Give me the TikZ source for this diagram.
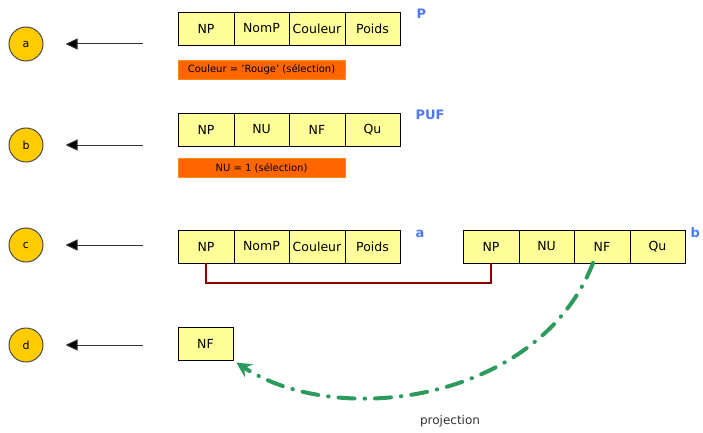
\documentclass[tikz,border=0pt]{standalone}
\usepackage{fontspec}
\setmainfont{DejaVu Sans}
\usetikzlibrary{arrows.meta,positioning,calc}
\definecolor{cellyel}{RGB}{255,255,153}
\definecolor{circyel}{RGB}{255,204,0}
\definecolor{selorange}{RGB}{255,102,0}
\definecolor{relblue}{RGB}{77,121,255}
\definecolor{joinred}{RGB}{140,0,0}
\definecolor{projgreen}{RGB}{46,155,94}

\begin{document}
\begin{tikzpicture}[x=1pt,y=-1pt,>=Stealth,
 cell/.style={draw,fill=cellyel,minimum width=55.5pt,minimum height=33pt,inner sep=0pt,outer sep=0pt,font=\fontsize{12.5}{14}\selectfont},
 opcirc/.style={circle,draw=black!70,line width=1pt,fill=circyel,minimum size=34pt,inner sep=0pt,font=\fontsize{11}{12}\selectfont},
 sel/.style={fill=selorange,draw=orange!90,minimum width=167pt,minimum height=19pt,inner sep=0pt,font=\fontsize{10}{12}\selectfont},
 rel/.style={text=relblue,anchor=base west,font=\bfseries\fontsize{13}{15}\selectfont},
 res/.style={draw=black!80,line width=1pt,-{Triangle[length=12pt,width=11pt,fill=black]},shorten >=22pt}]
 \useasboundingbox (0,0) rectangle (703,433);
 % result circles and arrows
 \node[opcirc] (ca) at (26,44) {a};
 \node[opcirc] (cb) at (26,145) {b};
 \node[opcirc] (cc) at (26,245) {c};
 \node[opcirc] (cd) at (26,345) {d};
 \coordinate (sa) at (143,44);
 \coordinate (sb) at (143,145);
 \coordinate (sc) at (143,245);
 \coordinate (sd) at (143,345);
 \draw[res] (sa) -- (ca);
 \draw[res] (sb) -- (cb);
 \draw[res] (sc) -- (cc);
 \draw[res] (sd) -- (cd);
 % a: selection on P
 \node[cell] (p1) at (206,28.5) {NP};
 \node[cell,right=0pt of p1] (p2) {NomP};
 \node[cell,right=0pt of p2] (p3) {Couleur};
 \node[cell,right=0pt of p3] (p4) {Poids};
 \node[rel] (lp) at (413,19) {P};
 \node[sel] (sela) at (261.5,69.5) {Couleur = 'Rouge' (sélection)};
 % b: selection on PUF
 \node[cell] (u1) at (206,129.5) {NP};
 \node[cell,right=0pt of u1] (u2) {NU};
 \node[cell,right=0pt of u2] (u3) {NF};
 \node[cell,right=0pt of u3] (u4) {Qu};
 \node[rel] (lu) at (412,119) {PUF};
 \node[sel] (selb) at (261.5,168) {NU = 1 (sélection)};
 % c: join
 \node[cell] (a1) at (206,246.5) {NP};
 \node[cell,right=0pt of a1] (a2) {NomP};
 \node[cell,right=0pt of a2] (a3) {Couleur};
 \node[cell,right=0pt of a3] (a4) {Poids};
 \node[rel] (la) at (412,237) {a};
 \node[cell] (b1) at (491,246.5) {NP};
 \node[cell,right=0pt of b1] (b2) {NU};
 \node[cell,right=0pt of b2] (b3) {NF};
 \node[cell,right=0pt of b3] (b4) {Qu};
 \node[rel] (lb) at (687,237) {b};
 \draw[joinred,line width=2pt] (a1.south) -- ++(0,20) -| (b1.south);
 % d: projection
 \node[cell] (d1) at (205.5,344) {NF};
 \draw[projgreen,line width=4pt,line cap=round,dash pattern=on 16pt off 10pt on 0.5pt off 10pt,
  -{Stealth[length=15pt,width=15pt,inset=5pt]}]
  ($(b3.south)+(-9,0)$) .. controls (540,400) and (340,430) .. ($(d1.south east)+(3,2)$);
 \node[text=black!80,font=\fontsize{12}{14}\selectfont] (pj) at (450,421) {projection};
\end{tikzpicture}
\end{document}
